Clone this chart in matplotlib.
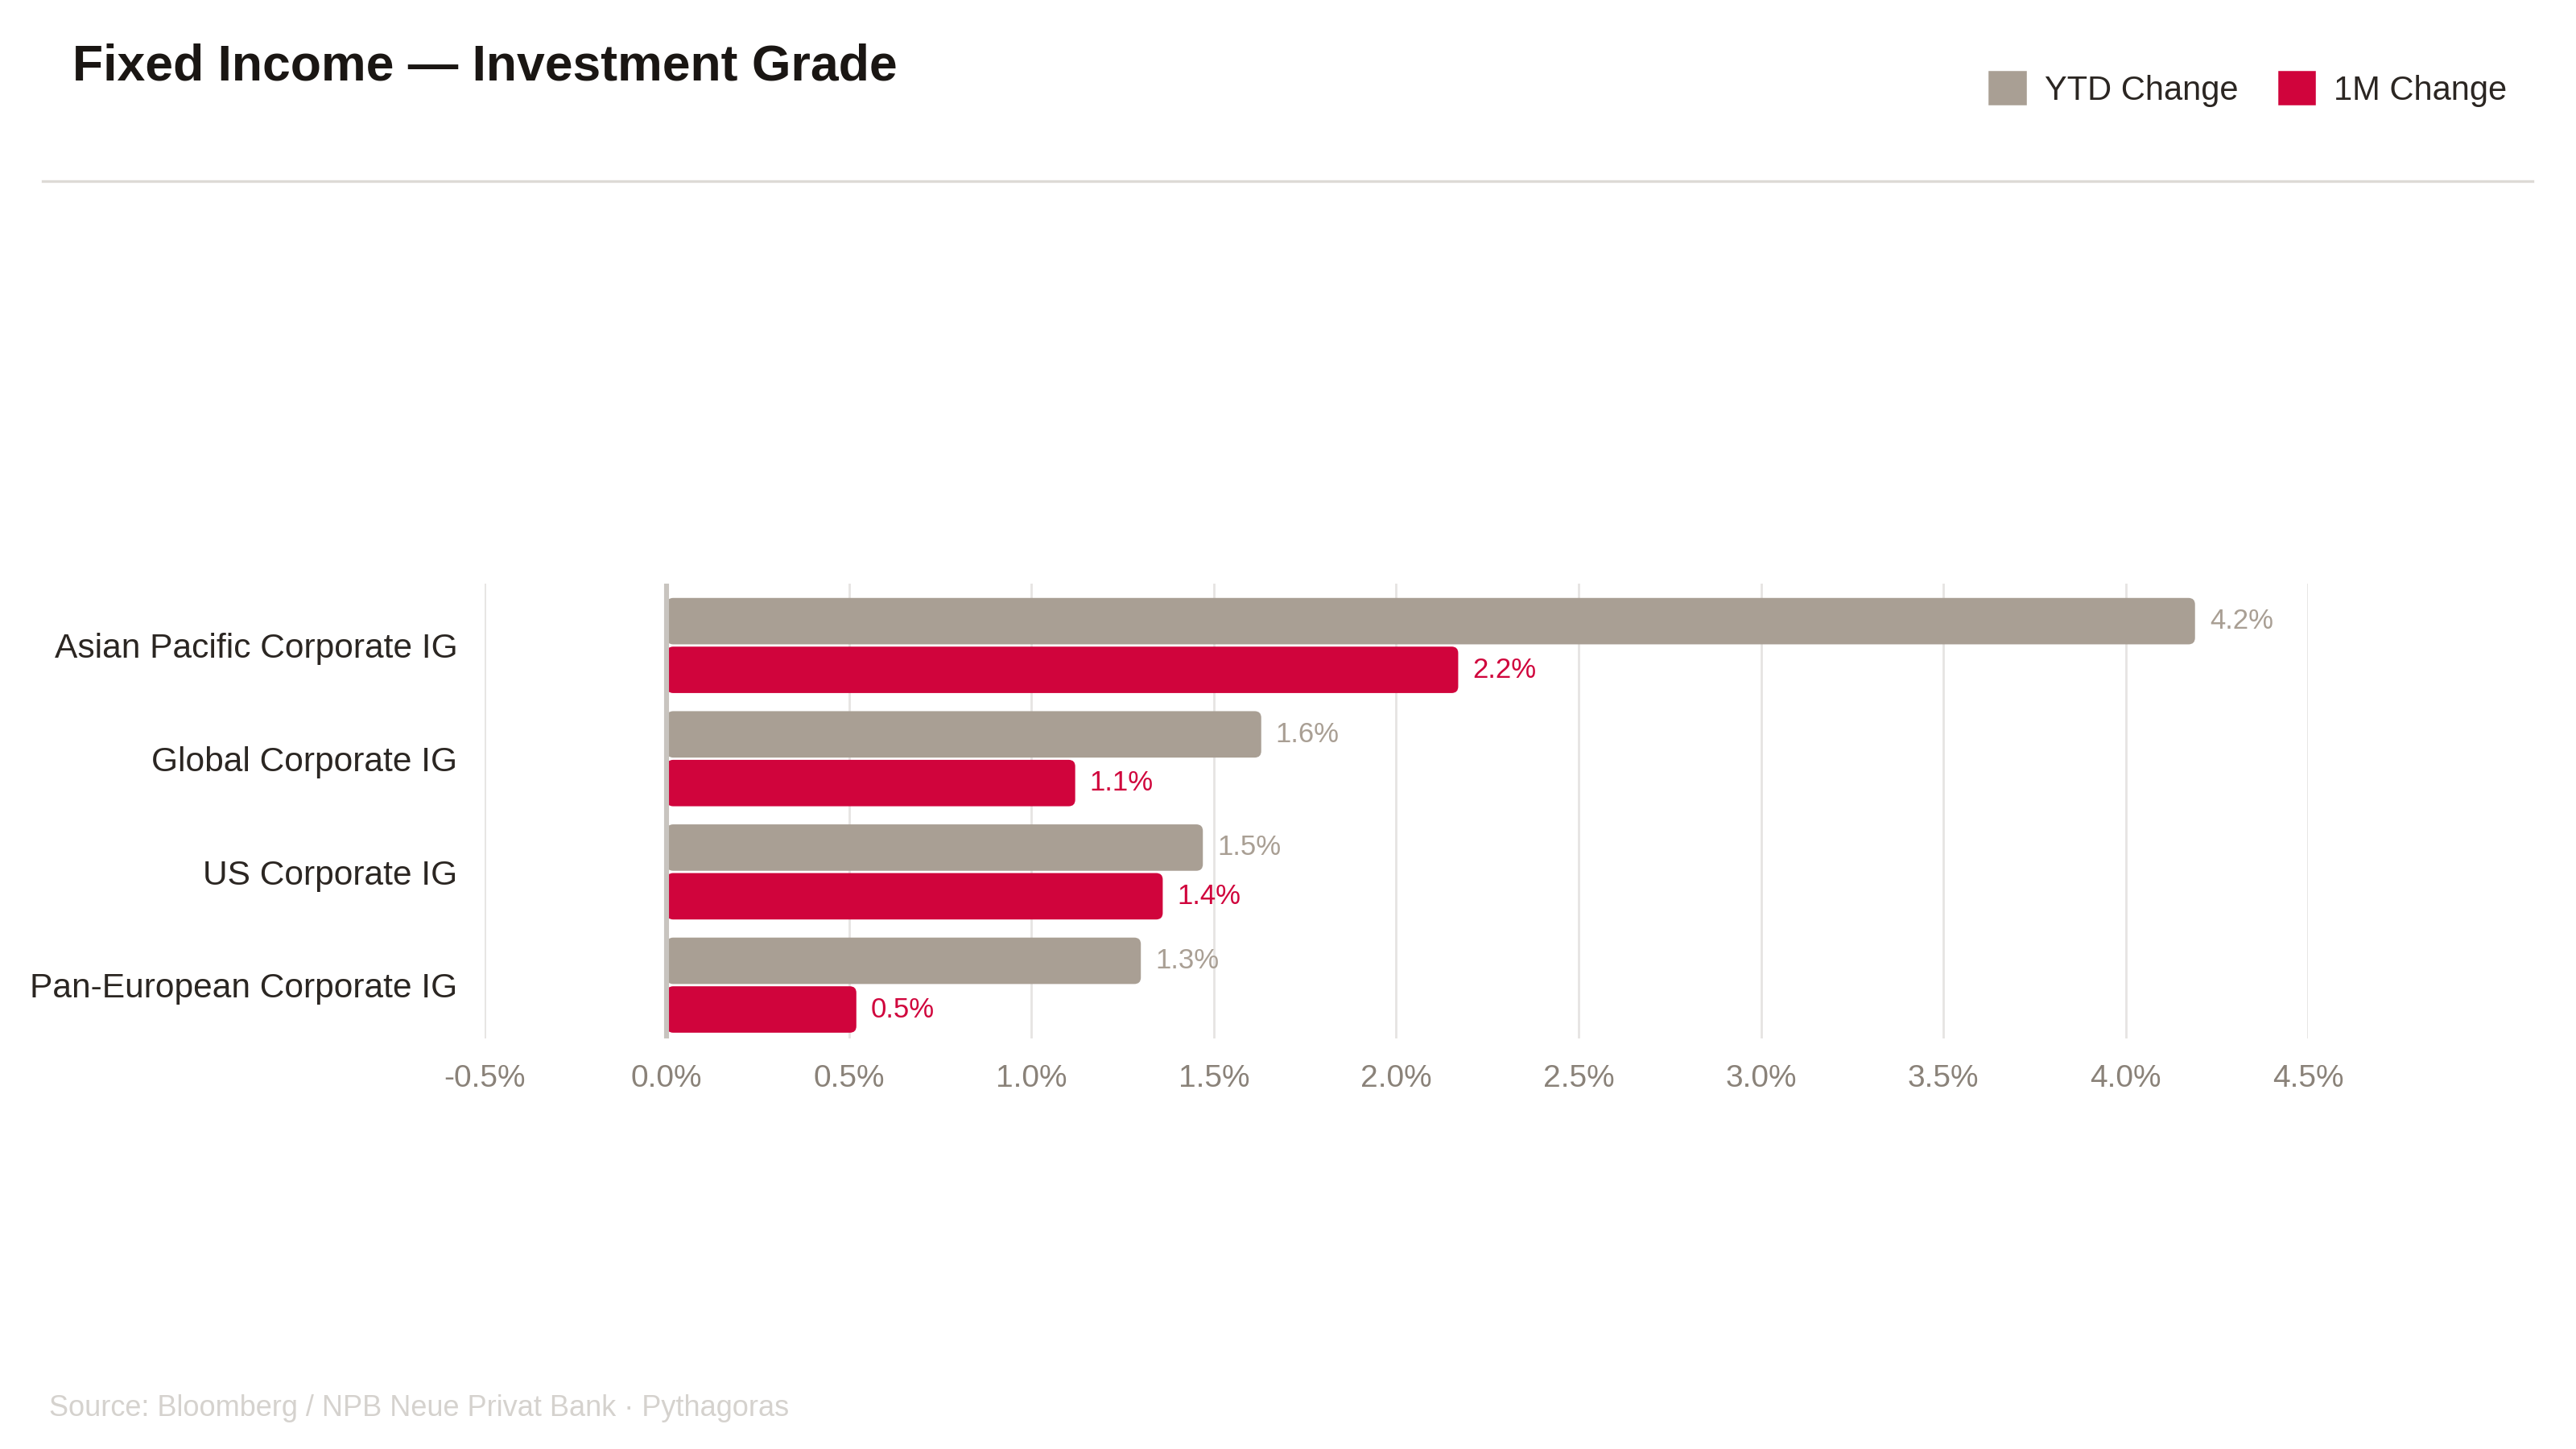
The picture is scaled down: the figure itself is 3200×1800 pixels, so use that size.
# horizontal grouped bar chart: Fixed Income - Investment Grade

import matplotlib.pyplot as plt
from matplotlib.patches import FancyBboxPatch, Patch
import numpy as np

categories = ["Asian Pacific Corporate IG", "Global Corporate IG",
              "US Corporate IG", "Pan-European Corporate IG"]
ytd_change = [4.19, 1.63, 1.47, 1.30]
m1_change = [2.17, 1.12, 1.36, 0.52]
x_ticks = [-0.5, 0.0, 0.5, 1.0, 1.5, 2.0, 2.5, 3.0, 3.5, 4.0, 4.5]

YTD_COLOR = "#a99f94"
M1_COLOR = "#d0043c"
TEXT_DARK = "#2b2622"
TICK_GREY = "#8a8279"

plt.rcParams['font.family'] = ['Liberation Sans', 'DejaVu Sans']

fig = plt.figure(figsize=(16, 9), dpi=200)
ax = fig.add_axes([0.188, 0.2834, 0.708, 0.3141])

y = np.arange(len(categories))
h = 0.41
off = 0.215

bars_ytd = ax.barh(y - off, ytd_change, height=h, color=YTD_COLOR, zorder=2)
bars_m1 = ax.barh(y + off, m1_change, height=h, color=M1_COLOR, zorder=2)

# swap plain rectangles for slightly rounded ones
for bars in (bars_ytd, bars_m1):
    for b in bars:
        bx, by, bw, bh = b.get_x(), b.get_y(), b.get_width(), b.get_height()
        rb = FancyBboxPatch((bx, by), bw, bh,
                            boxstyle="round,pad=0,rounding_size=0.018",
                            mutation_aspect=3.2, facecolor=b.get_facecolor(),
                            edgecolor="none", zorder=2)
        b.set_visible(False)
        ax.add_patch(rb)

for i in range(len(categories)):
    ax.text(ytd_change[i] + 0.04, y[i] - off, f"{ytd_change[i]:.1f}%",
            va="center", ha="left", fontsize=12.5, color=YTD_COLOR)
    ax.text(m1_change[i] + 0.04, y[i] + off, f"{m1_change[i]:.1f}%",
            va="center", ha="left", fontsize=12.5, color=M1_COLOR)

ax.set_xlim(-0.5, 4.5)
ax.set_ylim(3.47, -0.55)
ax.set_xticks(x_ticks)
ax.set_xticklabels([f"{t:.1f}%" for t in x_ticks])
ax.set_yticks(y)
ax.set_yticklabels(categories)
ax.tick_params(axis="x", length=0, pad=11.5, labelsize=14, labelcolor=TICK_GREY)
ax.tick_params(axis="y", length=0, pad=12, labelsize=15.3, labelcolor=TEXT_DARK)
ax.grid(axis="x", color="#e6e4e2", linewidth=1.0, zorder=0)
ax.axvline(0, color="#c8c4bf", linewidth=2.2, zorder=3)
for s in ax.spines.values():
    s.set_visible(False)

fig.text(0.028, 0.954, "Fixed Income \u2014 Investment Grade", fontsize=22.5,
         fontweight="bold", color="#1a1613", va="center", ha="left")
fig.add_artist(plt.Line2D([0.0166, 0.983], [0.875, 0.875], color="#dddad6",
                          linewidth=1.2, transform=fig.transFigure))

handles = [Patch(facecolor=YTD_COLOR, edgecolor=YTD_COLOR, joinstyle="round",
                 linewidth=2, label="YTD Change"),
           Patch(facecolor=M1_COLOR, edgecolor=M1_COLOR, joinstyle="round",
                 linewidth=2, label="1M Change")]
fig.legend(handles=handles, loc="center right", bbox_to_anchor=(0.985, 0.938),
           ncol=2, frameon=False, fontsize=15, handlelength=1.0, handleheight=1.0,
           handletextpad=0.6, columnspacing=1.25, labelcolor=TEXT_DARK)

fig.text(0.019, 0.028, "Source: Bloomberg / NPB Neue Privat Bank \u00b7 Pythagoras",
         fontsize=13, color="#d5d2ce", va="center", ha="left")

fig.savefig("out.png", dpi=200)
